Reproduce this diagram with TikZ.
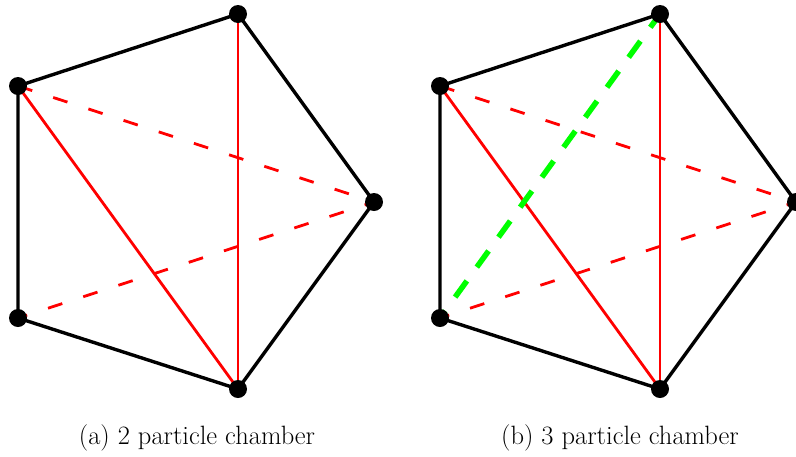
\documentclass[tikz,border=0pt]{standalone}
\usetikzlibrary{calc,backgrounds}
\begin{document}
\begin{tikzpicture}[x=1pt,y=-1pt,
  edge/.style={line width=3.4pt,black},
  redsolid/.style={line width=2.8pt,red},
  reddash/.style={line width=2.8pt,red,dash pattern=on 15pt off 22pt},
  greendash/.style={line width=5.5pt,green,dash pattern=on 20pt off 17pt,dash phase=11.2pt},
  vert/.style={circle,fill=black,inner sep=0pt,minimum size=18pt},
  captxt/.style={font=\fontsize{26.5}{32}\selectfont}]
\useasboundingbox (0,0) rectangle (796,456);
% left pentagon vertices
\node[vert] (a0) at (374,202) {};
\node[vert] (a1) at (238,14) {};
\node[vert] (a2) at (18,86) {};
\node[vert] (a3) at (18,318) {};
\node[vert] (a4) at (238,389) {};
% right pentagon vertices
\node[vert] (b0) at (796,202) {};
\node[vert] (b1) at (660,14) {};
\node[vert] (b2) at (440,86) {};
\node[vert] (b3) at (440,318) {};
\node[vert] (b4) at (660,389) {};
\begin{pgfonlayer}{background}
\foreach \p in {a,b}{
  \draw[edge] (\p0.center) -- (\p1.center) -- (\p2.center) -- (\p3.center) -- (\p4.center) -- cycle;
  \draw[redsolid] (\p2.center) -- (\p4.center);
  \draw[redsolid] (\p1.center) -- (\p4.center);
  \draw[reddash] (\p2.center) -- (\p0.center);
  \draw[reddash,dash phase=5.4pt] (\p3.center) -- (\p0.center);
}
\draw[greendash] (b3.center) -- (b1.center);
\end{pgfonlayer}
\node[captxt] (capa) at (197,438) {(a) 2 particle chamber};
\node[captxt] (capb) at (620,438) {(b) 3 particle chamber};
\end{tikzpicture}
\end{document}
